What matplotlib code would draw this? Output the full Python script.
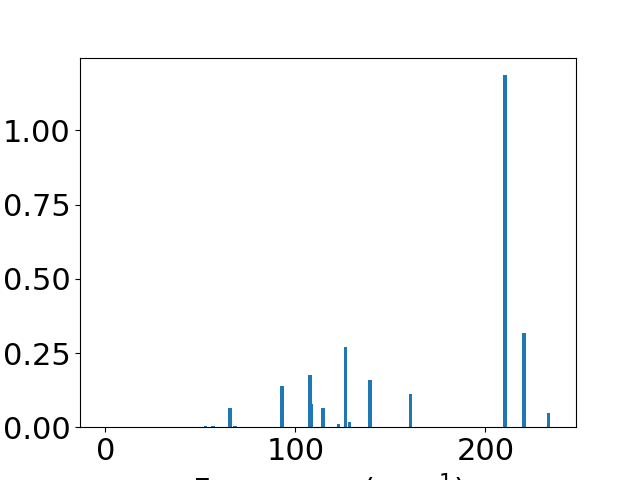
import matplotlib
matplotlib.use('Agg')
import matplotlib.pyplot as plt
import numpy as np

# vibrational frequencies (cm^-1) and intensities
freqs = [0.0, 52.7, 56.6, 65.6, 68.3, 93.0, 107.7, 108.5, 114.5, 122.7,
         126.5, 128.5, 139.3, 160.7, 210.3, 220.3, 233.3]
intens = [0.0, 0.004, 0.004, 0.064, 0.005, 0.138, 0.175, 0.077, 0.064, 0.012,
          0.270, 0.017, 0.158, 0.111, 1.186, 0.317, 0.047]

plt.rcParams['font.size'] = 22

fig = plt.figure(figsize=(6.4, 4.8), dpi=100)
ax = fig.add_subplot(111)
ax.bar(freqs, intens, width=1.8, color='#1f77b4')
ax.set_xlim(-13.3, 247.7)
ax.set_xlabel('Frequency (cm$^{-1}$)')

fig.savefig('out.png', dpi=100)
